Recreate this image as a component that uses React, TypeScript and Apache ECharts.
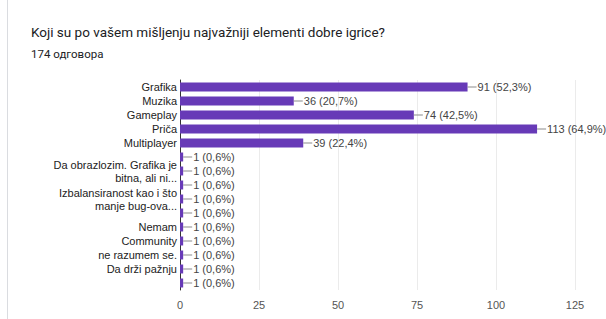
import React, { useEffect, useRef } from "react";
import * as echarts from "echarts";

const title = "Koji su po vašem mišljenju najvažniji elementi dobre igrice?";
const subtitle = "174 одговора";
const totalResponses = 174;

// Category labels (blank-ish ones are unlabelled rows in the original)
const categories = [
  "Grafika",
  "Muzika",
  "Gameplay",
  "Priča",
  "Multiplayer",
  " ",
  "Da obrazlozim. Grafika je\nbitna, ali ni...",
  "  ",
  "Izbalansiranost kao i što\nmanje bug-ova...",
  "   ",
  "Nemam",
  "Community",
  "ne razumem se.",
  "Da drži pažnju",
  "    ",
];
const values = [91, 36, 74, 113, 39, 1, 1, 1, 1, 1, 1, 1, 1, 1, 1];
const xTicks = [0, 25, 50, 75, 100, 125];

export default function App() {
  const ref = useRef<HTMLDivElement>(null);
  useEffect(() => {
    if (!ref.current) return;
    const chart = echarts.init(ref.current, null, { renderer: "svg" });
    chart.setOption({
      animation: false,
      backgroundColor: "#ffffff",
      textStyle: { fontFamily: "Roboto, Arial, sans-serif" },
      title: [
        {
          text: title,
          left: 26,
          top: 20,
          textStyle: { fontSize: 13.5, fontWeight: "normal", color: "#202124", fontFamily: "Roboto" },
        },
        {
          text: subtitle,
          left: 26,
          top: 43,
          textStyle: { fontSize: 11.5, fontWeight: "normal", color: "#202124", fontFamily: "Roboto" },
        },
      ],
      graphic: [
        {
          type: "line",
          shape: { x1: 7.5, y1: 0, x2: 7.5, y2: 319 },
          style: { stroke: "#dadce0", lineWidth: 1 },
        },
      ],
      grid: { left: 180, right: 31, top: 80, bottom: 29, containLabel: false },
      xAxis: {
        type: "value",
        min: xTicks[0],
        max: xTicks[xTicks.length - 1],
        interval: 25,
        axisLine: { show: false },
        axisTick: { show: false },
        splitLine: { show: true, lineStyle: { color: "#ebebeb", width: 1 } },
        axisLabel: {
          color: "#555",
          fontSize: 11,
          fontFamily: "Arial, Liberation Sans, sans-serif",
          margin: 9,
        },
      },
      yAxis: {
        type: "category",
        data: categories,
        inverse: true,
        axisLine: { show: true, lineStyle: { color: "#333", width: 1 } },
        axisTick: { show: false },
        axisLabel: {
          color: "#222",
          fontSize: 11,
          lineHeight: 13,
          margin: 3,
          interval: 0,
          fontFamily: "Arial, Liberation Sans, sans-serif",
        },
      },
      series: [
        {
          type: "bar",
          data: values,
          barCategoryGap: "36%",
          itemStyle: { color: "#673ab7" },
          label: {
            show: true,
            position: "right",
            distance: 0,
            formatter: (p: any) => {
              const pct = ((p.value / totalResponses) * 100).toFixed(1).replace(".", ",");
              return `{s|}{t|${p.value} (${pct}%)}`;
            },
            rich: {
              s: { width: 9, height: 1, backgroundColor: "#8a8a8a", verticalAlign: "middle" },
              t: {
                fontSize: 11,
                color: "#444",
                fontFamily: "Arial, Liberation Sans, sans-serif",
                padding: [0, 0, 0, 1],
              },
            },
          },
        },
      ],
    });
    return () => chart.dispose();
  }, []);
  return (
    <div
      ref={ref}
      style={{ position: "absolute", left: 0, top: 0, width: 606, height: 319 }}
    />
  );
}
